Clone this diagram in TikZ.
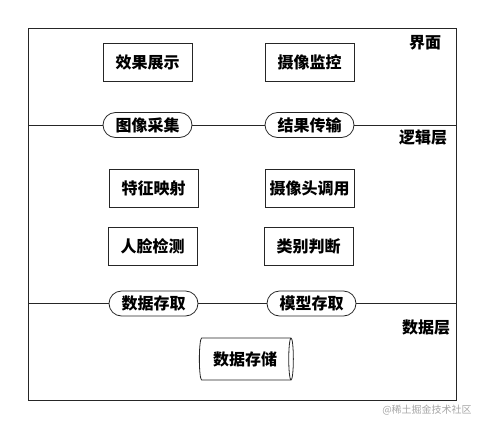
\documentclass[tikz,border=0pt]{standalone}
\usepackage{fontspec}
\setmainfont{Noto Sans CJK SC}
\usetikzlibrary{positioning,shapes.geometric,shapes.misc}

\begin{document}
\begin{tikzpicture}[x=1pt,y=-1pt,
    module/.style={draw=black!85, line width=0.8pt, minimum width=89pt, minimum height=38pt, inner sep=0pt},
    port/.style={rounded rectangle, draw=black!85, line width=0.8pt, minimum width=89pt, minimum height=25pt, inner sep=0pt},
    store/.style={cylinder, draw=black!85, line width=0.8pt, minimum width=42pt, minimum height=94pt, aspect=0.3, shape border rotate=0, inner sep=0pt},
    layer/.style={anchor=center},
    wire/.style={draw=black!85, line width=0.8pt}
  ]
  \useasboundingbox (0,0) rectangle (485,429);
  \fontsize{16}{19}\selectfont\bfseries
  % Frame
  \draw[wire] (28,28) rectangle (456,400);
  \coordinate (l1) at (28,125);
  \coordinate (r1) at (456,125);
  \coordinate (l2) at (28,303.5);
  \coordinate (r2) at (456,303.5);
  % Layer labels
  \node[layer] (ui) at (425,43) {界面};
  \node[layer] (logic) at (423,138) {逻辑层};
  \node[layer] (data) at (426,328) {数据层};
  % Interface
  \node[module] (show) at (147.5,62) {效果展示};
  \node[module] (monitor) at (309.5,62) {摄像监控};
  \node[port] (capture) at (147.5,125) {图像采集};
  \node[port] (transfer) at (309.5,125) {结果传输};
  % Logic
  \node[module] (feature) at (153.5,188.5) {特征映射};
  \node[module] (camera) at (309.5,188.5) {摄像头调用};
  \node[module] (face) at (152.5,246) {人脸检测};
  \node[module] (classify) at (308.5,246) {类别判断};
  \node[port] (dataio) at (153.5,303.5) {数据存取};
  \node[port] (modelio) at (311.5,303.5) {模型存取};
  % Data
  \node[store] (db) at (245,359) {数据存储};
  % Layer lines
  \draw[wire] (l1) -- (capture.west);
  \draw[wire] (capture.east) -- (transfer.west);
  \draw[wire] (transfer.east) -- (r1);
  \draw[wire] (l2) -- (dataio.west);
  \draw[wire] (dataio.east) -- (modelio.west);
  \draw[wire] (modelio.east) -- (r2);
  % Mark
  \node[text=black!35, font=\fontsize{10}{12}\selectfont\mdseries] (mark) at (427,410) {@稀土掘金技术社区};
\end{tikzpicture}
\end{document}
